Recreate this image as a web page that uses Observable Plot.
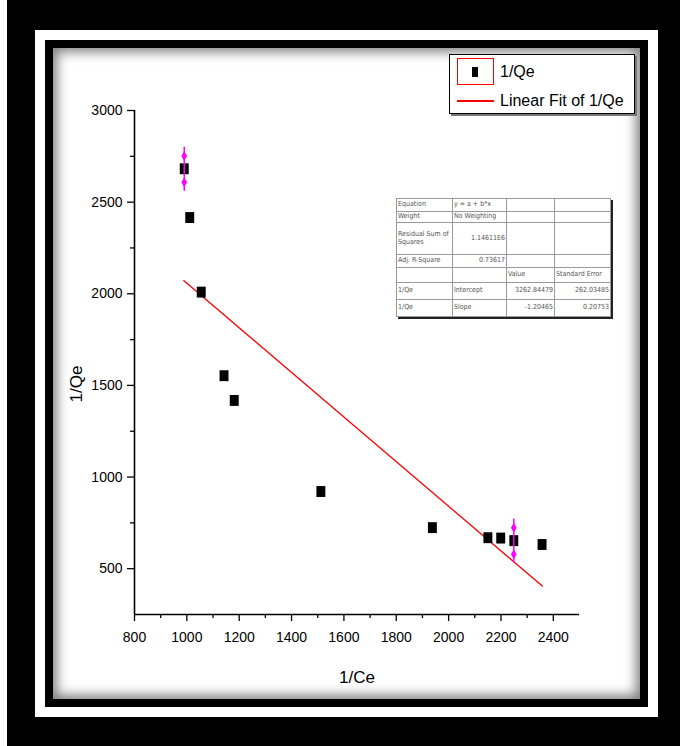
<!DOCTYPE html>
<html>
<head>
<meta charset="utf-8">
<script src="https://cdn.jsdelivr.net/npm/d3@7"></script>
<script src="https://cdn.jsdelivr.net/npm/@observablehq/plot@0.6"></script>
<style>
  html, body { margin: 0; padding: 0; background: #fff; }
  #stage { position: relative; width: 680px; height: 746px; overflow: hidden; background: #fff;
           font-family: "Liberation Sans", Arial, sans-serif; }
  .abs { position: absolute; box-sizing: border-box; }
  #outer { left: 7px; top: 0; width: 673px; height: 746px; background: #000; }
  #whiteframe { left: 35px; top: 30px; width: 623px; height: 687px; background: #fff; }
  #blackframe { left: 45px; top: 40px; width: 603px; height: 667px; background: #000; }
  #panel { left: 53px; top: 48px; width: 587px; height: 651px; background: #fff;
           box-shadow: inset 0 0 12px 4px rgba(0,0,0,0.5); }
  #chart { left: 0; top: 0; }
  #legend { left: 449px; top: 54px; width: 186px; height: 60px; background: #fff;
            border: 1.5px solid #000; box-shadow: 2px 2px 0 #777; }
  .lg-text { position: absolute; font-size: 16px; color: #000; white-space: nowrap; line-height: 1; }
  #stats { left: 396px; top: 198px; width: 214px; table-layout: fixed; border-collapse: collapse; background: #fff;
           border: 1px solid #000; box-shadow: 2px 2px 0 #222; font-size: 7px; color: #555;
           font-family: "DejaVu Sans Condensed", "Liberation Sans", sans-serif; }
  #stats td { border: 1px solid #9a9a9a; padding: 0 1px; vertical-align: middle; line-height: 1.05;
              overflow: hidden; white-space: normal; }
</style>
</head>
<body>
<div id="stage">
  <div id="outer" class="abs"></div>
  <div id="whiteframe" class="abs"></div>
  <div id="blackframe" class="abs"></div>
  <div id="panel" class="abs"></div>
  <div id="chart" class="abs"></div>
  <div id="legend" class="abs"></div>
  <table id="stats" class="abs"></table>
</div>
<script>
// ---- data ----
const xValues = [990, 1011, 1055, 1142, 1181, 1512, 1938, 2150, 2199, 2249, 2357];
const yValues = [2682, 2416, 2009, 1553, 1418, 921, 724, 669, 667, 653, 632];
// linear fit endpoints (Linear Fit of 1/Qe)
const fitX = [988, 2358];
const fitY = [2072, 405];
// error bars (magenta) on two points
const errX = [990, 2249];
const errY = [2680, 651];
const errHalf = [120, 120];
// axis ticks
const xTicksMajor = [800, 1000, 1200, 1400, 1600, 1800, 2000, 2200, 2400];
const xTicksMinor = [900, 1100, 1300, 1500, 1700, 1900, 2100, 2300];
const yTicksMajor = [500, 1000, 1500, 2000, 2500, 3000];
const yTicksMinor = [750, 1250, 1750, 2250, 2750];
const xDomain = [800, 2500];
const yDomain = [250, 3000];
// legend + stats table text
const legendLabels = ["1/Qe", "Linear Fit of 1/Qe"];
const statsRows = [
  ["Equation", "y = a + b*x", "", ""],
  ["Weight", "No Weighting", "", ""],
  ["Residual Sum of Squares", "1.14611E6", "", ""],
  ["Adj. R-Square", "0.73617", "", ""],
  ["", "", "Value", "Standard Error"],
  ["1/Qe", "Intercept", "3262.84479", "262.03485"],
  ["1/Qe", "Slope", "-1.20465", "0.20753"]
];

const points = xValues.map((x, i) => ({x, y: yValues[i]}));
const fit = fitX.map((x, i) => ({x, y: fitY[i]}));
const errs = errX.map((x, i) => ({x, y: errY[i], e: errHalf[i]}));

const rectSymbol = {
  draw(context, size) {
    const s = Math.sqrt(size);
    const w = 0.9 * s, h = 1.1 * s;
    context.moveTo(-w / 2, -h / 2);
    context.lineTo(w / 2, -h / 2);
    context.lineTo(w / 2, h / 2);
    context.lineTo(-w / 2, h / 2);
    context.closePath();
  }
};

const font = '"Liberation Sans", Arial, sans-serif';

const chart = Plot.plot({
  width: 680,
  height: 746,
  marginLeft: 134,
  marginRight: 101,
  marginTop: 110,
  marginBottom: 132,
  x: {domain: xDomain},
  y: {domain: yDomain},
  style: {background: "transparent", fontFamily: font, color: "#000", overflow: "visible"},
  marks: [
    Plot.axisX({ticks: xTicksMajor, tickSize: 7, tickPadding: 11, tickFormat: d => String(d), fontSize: 14, label: null, strokeWidth: 1.3}),
    Plot.axisX({ticks: xTicksMinor, tickSize: 4, tickFormat: () => "", label: null, strokeWidth: 1.3}),
    Plot.axisY({ticks: yTicksMajor, tickSize: 7, tickPadding: 5, tickFormat: d => String(d), fontSize: 14, label: null, strokeWidth: 1.3}),
    Plot.axisY({ticks: yTicksMinor, tickSize: 4, tickFormat: () => "", label: null, strokeWidth: 1.3}),
    Plot.ruleX([xDomain[0]], {y1: yDomain[0], y2: yDomain[1], stroke: "#000", strokeWidth: 1.6}),
    Plot.ruleY([yDomain[0]], {x1: xDomain[0], x2: xDomain[1], stroke: "#000", strokeWidth: 1.6}),
    Plot.text(["1/Ce"], {text: d => d, frameAnchor: "bottom", dy: 68, fontSize: 17}),
    Plot.text(["1/Qe"], {text: d => d, frameAnchor: "left", dx: -58, dy: 40, rotate: -90, fontSize: 17}),
    Plot.line(fit, {x: "x", y: "y", stroke: "#ff0000", strokeWidth: 1.3}),
    Plot.dot(points, {x: "x", y: "y", symbol: rectSymbol, r: 5.6, fill: "#000", stroke: null}),
    Plot.ruleX(errs, {x: "x", y1: d => d.y - d.e, y2: d => d.y + d.e, stroke: "#ff00ff", strokeWidth: 1.5}),
    Plot.dot(errs, {x: "x", y: d => d.y + d.e * 0.6, symbol: "diamond", r: 3, fill: "#ff00ff"}),
    Plot.dot(errs, {x: "x", y: d => d.y - d.e * 0.6, symbol: "diamond", r: 3, fill: "#ff00ff"})
  ]
});
document.getElementById("chart").appendChild(chart);

// legend
const legend = document.getElementById("legend");
legend.innerHTML = `
  <div style="position:absolute;left:7px;top:3px;width:37px;height:27px;border:1.5px solid #ff0000;box-sizing:border-box;"></div>
  <div style="position:absolute;left:22px;top:12px;width:6px;height:10px;background:#000;"></div>
  <div class="lg-text" style="left:50px;top:9px;">${legendLabels[0]}</div>
  <div style="position:absolute;left:7px;top:45px;width:37px;height:1.5px;background:#ff0000;"></div>
  <div class="lg-text" style="left:50px;top:38px;">${legendLabels[1]}</div>`;

// stats table
const colW = [56, 54, 48, 56];
const rowH = [13, 11, 32, 13, 15, 17, 17];
const align = [
  ["left", "left", "left", "left"],
  ["left", "left", "left", "left"],
  ["left", "right", "left", "left"],
  ["left", "right", "left", "left"],
  ["left", "left", "left", "left"],
  ["left", "left", "right", "right"],
  ["left", "left", "right", "right"]
];
const table = document.getElementById("stats");
table.innerHTML = `<colgroup>${colW.map(w => `<col style="width:${w}px">`).join("")}</colgroup>` +
  statsRows.map((r, i) =>
    `<tr style="height:${rowH[i]}px">` + r.map((c, j) =>
      `<td style="text-align:${align[i][j]}">${c}</td>`).join("") + `</tr>`
  ).join("");
</script>
</body>
</html>
